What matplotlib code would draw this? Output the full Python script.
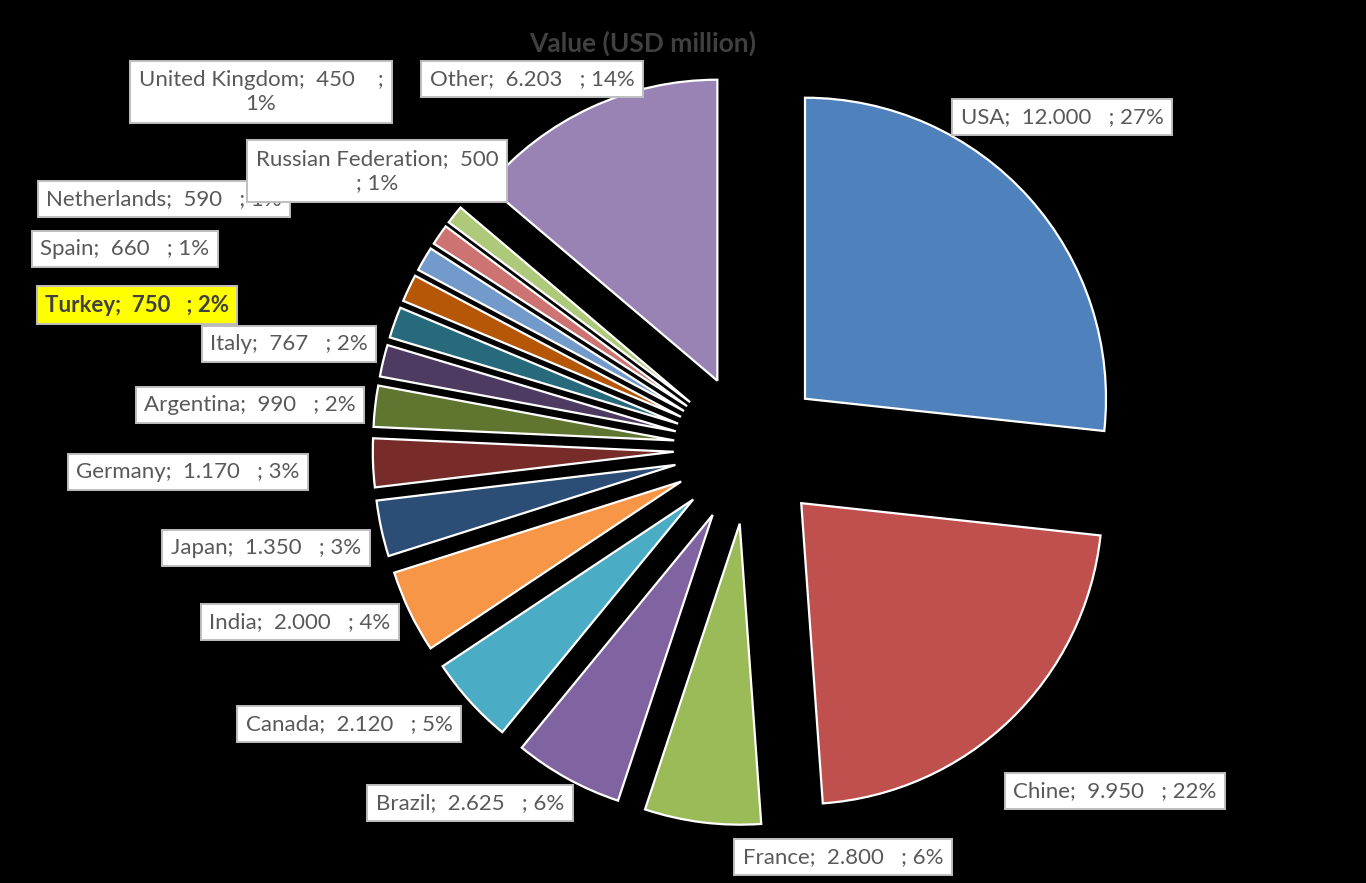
import matplotlib
matplotlib.use("Agg")
import matplotlib.pyplot as plt

# ---- data ----
countries = ["USA", "Chine", "France", "Brazil", "Canada", "India", "Japan",
             "Germany", "Argentina", "Italy", "Turkey", "Spain", "Netherlands",
             "Russian Federation", "United Kingdom", "Other"]
values = [12000, 9950, 2800, 2625, 2120, 2000, 1350, 1170, 990, 767, 750,
          660, 590, 500, 450, 6203]
title = "Value (USD million)"

# ---- styles ----
colors = ["#4F81BD", "#C0504D", "#9BBB59", "#8064A2", "#4BACC6", "#F79646",
          "#2C4D75", "#772C2A", "#5F7530", "#4D3B62", "#276A7C", "#B65708",
          "#729ACA", "#CD7371", "#AFC97A", "#9983B5"]

# label box centres in pixel coordinates (layout only)
label_px = {
    "USA": (1062, 117), "Chine": (1115, 791), "France": (843, 857),
    "Brazil": (470, 803), "Canada": (349, 724), "India": (300, 622),
    "Japan": (266, 548), "Germany": (188, 472), "Argentina": (250, 405),
    "Italy": (289, 344), "Turkey": (137, 305), "Spain": (125, 249),
    "Netherlands": (164, 199), "Russian Federation": (377, 171),
    "United Kingdom": (261, 92), "Other": (532, 79),
}

W, H = 1366, 883
CX, CY, R = 749, 449, 301

fig = plt.figure(figsize=(W / 100, H / 100), dpi=100, facecolor="black")
ax = fig.add_axes([0, 0, 1, 1])
ax.set_facecolor("black")

ax.pie(values, colors=colors, explode=[0.25] * len(values), startangle=90,
       counterclock=False, radius=1,
       wedgeprops=dict(edgecolor="white", linewidth=1.6))
ax.set_aspect("auto")
ax.set_xlim(-CX / R, (W - CX) / R)
ax.set_ylim(-(H - CY) / R, CY / R)
ax.set_axis_off()

def px2data(px, py):
    return (px - CX) / R, (CY - py) / R

total = sum(values)
font = ["Lato", "DejaVu Sans"]
for z, (name, v) in enumerate(zip(countries, values)):
    pct = round(100 * v / total)
    num = f"{v:,}".replace(",", ".")
    if name == "United Kingdom":
        txt = f"{name};  {num}    ;\n{pct}%"
    elif name == "Russian Federation":
        txt = f"{name};  {num}\n; {pct}%"
    else:
        txt = f"{name};  {num}   ; {pct}%"
    x, y = px2data(*label_px[name])
    turkey = name == "Turkey"
    ax.text(x, y, txt, ha="center", va="center", multialignment="center",
            fontsize=16, family=font, color="#595959" if not turkey else "#404040",
            fontweight="bold" if turkey else "normal", linespacing=1.3,
            zorder=10 + z,
            bbox=dict(boxstyle="square,pad=0.38",
                      facecolor="#FFFF00" if turkey else "white",
                      edgecolor="#BFBFBF", linewidth=1.4))

tx, ty = px2data(643, 43)
ax.text(tx, ty, title, ha="center", va="center", fontsize=19,
        fontweight="bold", family=font, color="#404040")

fig.savefig("out.png", dpi=100, facecolor="black")
